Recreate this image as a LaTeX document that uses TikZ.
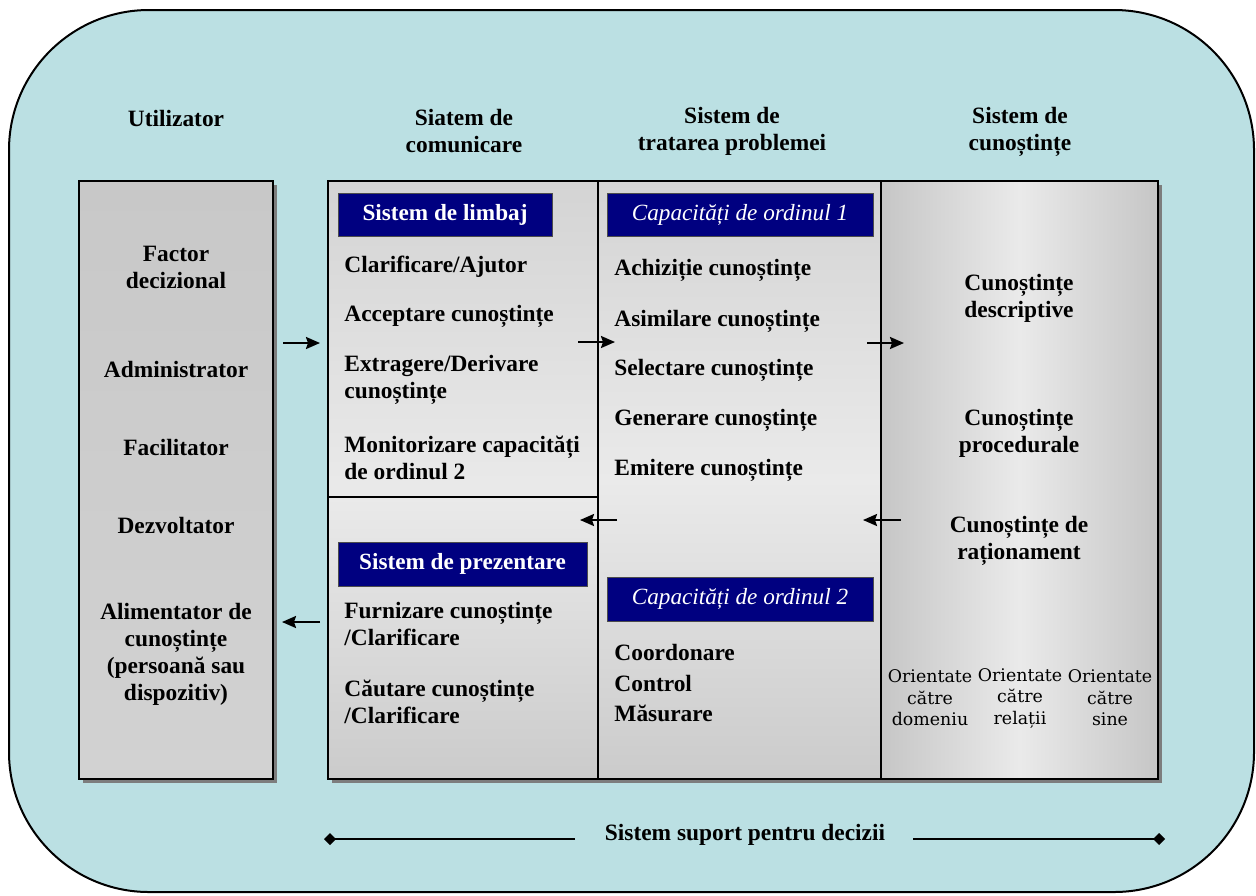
\documentclass[tikz,border=0pt]{standalone}
\usepackage{fontspec}
\setmainfont{Liberation Serif}
\newfontfamily\dvs{DejaVu Serif}
\usetikzlibrary{arrows.meta}

\definecolor{panel}{RGB}{187,224,227}
\definecolor{navyhead}{RGB}{0,0,128}
\definecolor{shadowgray}{RGB}{125,125,125}
\definecolor{utop}{RGB}{200,200,200}
\definecolor{ubot}{RGB}{210,210,210}
\definecolor{gtop}{RGB}{212,212,212}
\definecolor{gmid}{RGB}{234,234,234}
\definecolor{gbot}{RGB}{203,203,203}
\definecolor{gedge}{RGB}{198,198,198}

\tikzset{
  lbl/.style={font=\fontsize{11.7}{13.5}\selectfont\bfseries, inner sep=0pt, align=center},
  item/.style={font=\fontsize{11.7}{13.5}\selectfont\bfseries, inner sep=0pt, anchor=west, align=left},
  head/.style={fill=navyhead, draw=black!70, line width=0.4pt, text=white, inner sep=0pt,
               font=\fontsize{11.6}{13.5}\selectfont\bfseries},
  headit/.style={head, font=\fontsize{11.6}{13.5}\selectfont\itshape},
  orient/.style={font=\dvs\fontsize{8.7}{10.75}\selectfont, inner sep=0pt, align=center},
  arr/.style={line width=1.1pt, -{Stealth[length=7pt,width=6pt,inset=1pt]}},
  span/.style={line width=1.1pt, -{Diamond[length=6pt,width=6pt]}},
  frame/.style={draw=black, line width=1pt},
}

\begin{document}
\begin{tikzpicture}[x=0.5pt,y=-0.5pt]
\useasboundingbox (0,0) rectangle (1256,895);
\fill[white] (0,0) rectangle (1256,895);

% rounded background panel
\draw[fill=panel, line width=1pt, rounded corners=70pt] (9,10) rectangle (1254,892);

% drop shadows
\fill[shadowgray] (83,185) rectangle (277,783);
\fill[shadowgray] (332,185) rectangle (1162,783);

% user box
\shade[top color=utop, bottom color=ubot] (79,181) rectangle (273,779);
\draw[frame] (79,181) rectangle (273,779);

% decision support system columns
\shade[top color=gtop, bottom color=gmid] (328,181) rectangle (598,497);
\shade[top color=gmid, bottom color=gbot] (328,497) rectangle (598,779);
\shade[top color=gtop, bottom color=gbot, middle color=gmid] (598,181) rectangle (881,779);
\shade[left color=gedge, right color=gedge, middle color=gmid] (881,181) rectangle (1158,779);
\draw[frame] (328,181) rectangle (1158,779);
\draw[frame] (598,181) -- (598,779);
\draw[frame] (881,181) -- (881,779);
\draw[frame] (328,497) -- (598,497);

% column titles
\node[lbl] (hU) at (176,118) {Utilizator};
\node[lbl] (hC) at (464,131.5) {Siatem de\\comunicare};
\node[lbl] (hP) at (732,131.5) {Sistem de\\tratarea problemei};
\node[lbl] (hK) at (1020,131.5) {Sistem de\\cunoștințe};

% user roles
\node[lbl] (u1) at (176,267.5) {Factor\\decizional};
\node[lbl] (u2) at (176,369) {Administrator};
\node[lbl] (u3) at (176,447) {Facilitator};
\node[lbl] (u4) at (176,525) {Dezvoltator};
\node[lbl] (u5) at (176,654) {Alimentator de\\cunoștințe\\(persoană sau\\dispozitiv)};

% section headers
\node[head, minimum width=107pt, minimum height=21.5pt] (hL) at (445,214.5) {Sistem de limbaj};
\node[headit, minimum width=133pt, minimum height=21.5pt] (hO1) at (740,214.5) {Capacități de ordinul 1};
\node[head, minimum width=124.5pt, minimum height=22pt] (hPr) at (462.5,564) {Sistem de prezentare};
\node[headit, minimum width=133pt, minimum height=22pt] (hO2) at (740,599) {Capacități de ordinul 2};

% communication system items
\node[item] (c1) at (344,267) {Clarificare/Ajutor};
\node[item] (c2) at (344,316) {Acceptare cunoștințe};
\node[item] (c3) at (344,379.5) {Extragere/Derivare\\cunoștințe};
\node[item] (c4) at (344,457.5) {Monitorizare capacități\\de ordinul 2};
\node[item] (c5) at (344,623.5) {Furnizare cunoștințe\\/Clarificare};
\node[item] (c6) at (344,701.5) {Căutare cunoștințe\\/Clarificare};

% problem processing items
\node[item] (p1) at (614,270) {Achiziție cunoștințe};
\node[item] (p2) at (614,321) {Asimilare cunoștințe};
\node[item] (p3) at (614,370) {Selectare cunoștințe};
\node[item] (p4) at (614,420) {Generare cunoștințe};
\node[item] (p5) at (614,470) {Emitere cunoștințe};
\node[item] (p6) at (614,652) {Coordonare};
\node[item] (p7) at (614,683) {Control};
\node[item] (p8) at (614,713) {Măsurare};

% knowledge system items
\node[lbl] (k1) at (1019,298) {Cunoștințe\\descriptive};
\node[lbl] (k2) at (1019,433) {Cunoștințe\\procedurale};
\node[lbl] (k3) at (1019,540.5) {Cunoștințe de\\raționament};
\node[orient] (o1) at (930,698) {Orientate\\către\\domeniu};
\node[orient] (o2) at (1020,698) {Orientate\\către\\relații};
\node[orient] (o3) at (1110,698) {Orientate\\către\\sine};

% flow arrows
\coordinate (a1s) at (283,343);  \coordinate (a1e) at (320,343);
\coordinate (a2s) at (578,342);  \coordinate (a2e) at (615,342);
\coordinate (a3s) at (867,343);  \coordinate (a3e) at (904,343);
\coordinate (b1s) at (617,520);  \coordinate (b1e) at (580,520);
\coordinate (b2s) at (901,520);  \coordinate (b2e) at (863,520);
\coordinate (b3s) at (320,622);  \coordinate (b3e) at (282,622);
\draw[arr] (a1s) -- (a1e);
\draw[arr] (a2s) -- (a2e);
\draw[arr] (a3s) -- (a3e);
\draw[arr] (b1s) -- (b1e);
\draw[arr] (b2s) -- (b2e);
\draw[arr] (b3s) -- (b3e);

% span of the decision support system
\node[lbl] (ss) at (745,835) {Sistem suport pentru decizii};
\coordinate (sLi) at (575,839); \coordinate (sLo) at (324,839);
\coordinate (sRi) at (913,839); \coordinate (sRo) at (1165,839);
\draw[span] (sLi) -- (sLo);
\draw[span] (sRi) -- (sRo);
\end{tikzpicture}
\end{document}
